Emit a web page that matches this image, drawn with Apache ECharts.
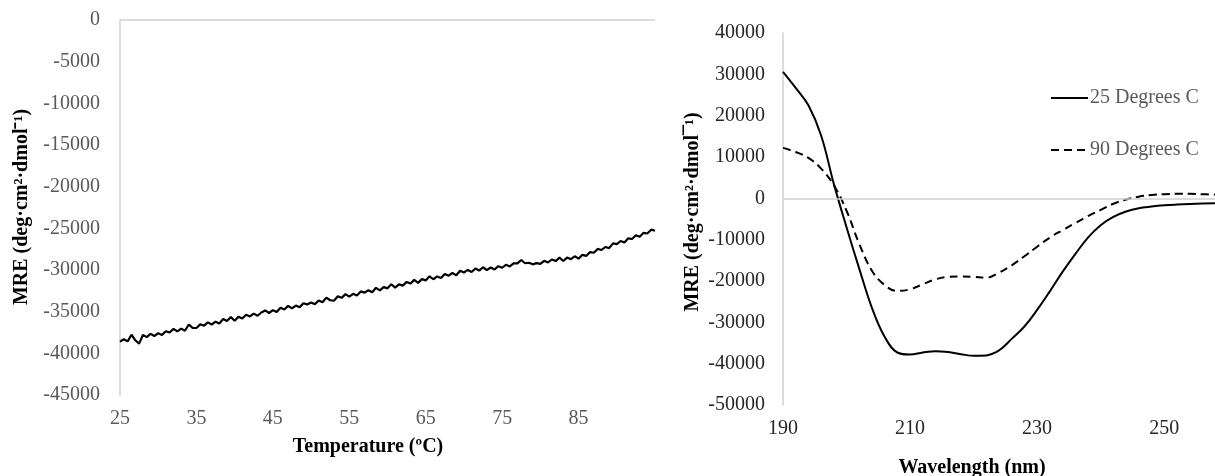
<!DOCTYPE html>
<html>
<head>
<meta charset="utf-8">
<script src="https://cdn.jsdelivr.net/npm/echarts@6/dist/echarts.min.js"></script>
<style>
html,body{margin:0;padding:0;background:#fff;}
#c{width:1215px;height:476px;}
</style>
</head>
<body>
<div id="c"></div>
<script>
// ---- Left chart: thermal melt ----
var temps = [
25,25.5,26,26.5,27,27.5,28,28.5,29,29.5,
30,30.5,31,31.5,32,32.5,33,33.5,34,34.5,
35,35.5,36,36.5,37,37.5,38,38.5,39,39.5,
40,40.5,41,41.5,42,42.5,43,43.5,44,44.5,
45,45.5,46,46.5,47,47.5,48,48.5,49,49.5,
50,50.5,51,51.5,52,52.5,53,53.5,54,54.5,
55,55.5,56,56.5,57,57.5,58,58.5,59,59.5,
60,60.5,61,61.5,62,62.5,63,63.5,64,64.5,
65,65.5,66,66.5,67,67.5,68,68.5,69,69.5,
70,70.5,71,71.5,72,72.5,73,73.5,74,74.5,
75,75.5,76,76.5,77,77.5,78,78.5,79,79.5,
80,80.5,81,81.5,82,82.5,83,83.5,84,84.5,
85,85.5,86,86.5,87,87.5,88,88.5,89,89.5,
90,90.5,91,91.5,92,92.5,93,93.5,94,94.5,
95];
var meltMRE = [
-38600,-38310,-38570,-37770,-38430,-38840,-37800,-38060,-37660,-37920,
-37580,-37790,-37350,-37500,-37060,-37370,-37030,-37290,-36540,-36950,
-36960,-36520,-36680,-36280,-36540,-36200,-36410,-35870,-36120,-35630,
-36090,-35600,-35810,-35360,-35570,-35230,-35490,-35100,-34850,-35160,
-34820,-35030,-34540,-34740,-34300,-34610,-34270,-34480,-33980,-34140,
-33900,-34100,-33660,-33870,-33320,-33630,-33680,-33140,-33340,-32900,
-33200,-32860,-33060,-32570,-32720,-32430,-32680,-32140,-32440,-32050,
-32200,-31710,-32110,-31720,-31870,-31430,-31630,-31190,-31540,-31100,
-31250,-30760,-31110,-30770,-30970,-30480,-30680,-30340,-30640,-30100,
-30300,-29990,-30240,-29830,-30070,-29670,-30010,-29700,-29940,-29540,
-29730,-29370,-29570,-29210,-29200,-28800,-29190,-29130,-29320,-29170,
-29260,-28900,-29100,-28740,-28930,-28520,-28920,-28510,-28700,-28350,
-28640,-28180,-28310,-27850,-27930,-27470,-27600,-27240,-27370,-26810,
-26890,-26520,-26710,-26200,-26280,-25820,-26000,-25540,-25620,-25160,
-25290];

// ---- Right chart: CD spectra ----
var wavelengths = [190,192,194,196,198,200,202,204,206,208,210,212,214,216,218,220,222,224,226,228,230,232,234,236,238,240,242,244,246,248,250,252,254,256,258];
var mre25 = [30600,26700,22500,15200,3500,-7000,-17000,-26500,-33500,-37300,-37800,-37300,-37000,-37200,-37700,-38100,-38000,-36800,-34000,-31000,-27000,-22500,-17800,-13500,-9500,-6500,-4500,-3200,-2400,-2000,-1700,-1500,-1350,-1250,-1200];
var mre90 = [12200,11200,9800,7200,3200,-3000,-11000,-17500,-21000,-22400,-22000,-20800,-19600,-19000,-18900,-19000,-19200,-18000,-16200,-14000,-11700,-9500,-7700,-6000,-4300,-2800,-1300,-300,400,800,1000,1100,1100,1000,900];
var seriesNames = ['25 Degrees C', '90 Degrees C'];

function pairs(xs, ys){ return xs.map(function(x,i){ return [x, ys[i]]; }); }

var FONT = '"Liberation Serif", "Times New Roman", serif';
var axisGrey = '#d0d0d0';

var zeroLine = {
  silent: true, symbol: 'none', label: {show: false},
  lineStyle: {color: axisGrey, width: 1.5, type: 'solid'},
  data: [{yAxis: 0}], animation: false
};

var chart = echarts.init(document.getElementById('c'));
chart.setOption({
  animation: false,
  backgroundColor: '#fff',
  grid: [
    {left: 120, top: 20, width: 535, height: 375},
    {left: 783, top: 33, right: 0, height: 372}
  ],
  xAxis: [
    {
      gridIndex: 0, type: 'value', min: 25, max: 95, interval: 5,
      axisLine: {show: false}, axisTick: {show: false}, splitLine: {show: false},
      axisLabel: {
        color: '#595959', fontFamily: FONT, fontSize: 20, margin: 14,
        showMaxLabel: false,
        formatter: function(v){ return ((v - 25) % 10 === 0 && v < 95) ? String(v) : ''; }
      }
    },
    {
      gridIndex: 1, type: 'value', min: 190, max: 258, interval: 10,
      axisLine: {show: false}, axisTick: {show: false}, splitLine: {show: false},
      axisLabel: {
        color: '#262626', fontFamily: FONT, fontSize: 20, margin: 14,
        showMaxLabel: false,
        formatter: function(v){ return ((v - 190) % 20 === 0 && v <= 250) ? String(v) : ''; }
      }
    }
  ],
  yAxis: [
    {
      gridIndex: 0, type: 'value', min: -45000, max: 0, interval: 5000,
      axisLine: {show: true, lineStyle: {color: axisGrey, width: 1.5}},
      axisTick: {show: false}, splitLine: {show: false},
      axisLabel: {color: '#595959', fontFamily: FONT, fontSize: 20, margin: 20,
        formatter: function(v){ return String(v); }}
    },
    {
      gridIndex: 1, type: 'value', min: -50000, max: 40000, interval: 10000,
      axisLine: {show: true, onZero: false, lineStyle: {color: axisGrey, width: 1.5}},
      axisTick: {show: false}, splitLine: {show: false},
      axisLabel: {color: '#262626', fontFamily: FONT, fontSize: 20, margin: 18,
        formatter: function(v){ return String(v); }}
    }
  ],
  legend: {
    orient: 'vertical', left: 1045, top: 83,
    itemWidth: 37, itemHeight: 14, itemGap: 32,
    data: seriesNames,
    itemStyle: {opacity: 0, borderWidth: 0},
    textStyle: {color: '#595959', fontFamily: FONT, fontSize: 20, lineHeight: 20, padding: [0,0,0,-3]}
  },
  series: [
    {
      type: 'line', xAxisIndex: 0, yAxisIndex: 0, data: pairs(temps, meltMRE),
      symbol: 'none', lineStyle: {color: '#000', width: 2.2}, itemStyle: {color: '#000'},
      markLine: zeroLine, z: 3
    },
    {
      name: seriesNames[0], type: 'line', xAxisIndex: 1, yAxisIndex: 1, data: pairs(wavelengths, mre25),
      symbol: 'none', smooth: 0.4, lineStyle: {color: '#000', width: 2}, itemStyle: {color: '#000'},
      markLine: zeroLine, z: 3
    },
    {
      name: seriesNames[1], type: 'line', xAxisIndex: 1, yAxisIndex: 1, data: pairs(wavelengths, mre90),
      symbol: 'none', smooth: 0.4, lineStyle: {color: '#000', width: 2, type: [8, 5]}, itemStyle: {color: '#000'},
      z: 3
    }
  ],
  graphic: [
    {type: 'text', x: 22, y: 207, rotation: Math.PI/2,
      style: {text: 'MRE (deg·cm²·dmol⁻¹)', font: 'bold 20px ' + FONT, fill: '#000', align: 'center', verticalAlign: 'middle'}},
    {type: 'text', x: 368, y: 447,
      style: {text: 'Temperature (ºC)', font: 'bold 20px ' + FONT, fill: '#000', align: 'center', verticalAlign: 'middle'}},
    {type: 'text', x: 693, y: 212, rotation: Math.PI/2,
      style: {text: 'MRE (deg·cm²·dmol¯¹)', font: 'bold 20px ' + FONT, fill: '#000', align: 'center', verticalAlign: 'middle'}},
    {type: 'text', x: 972, y: 468,
      style: {text: 'Wavelength (nm)', font: 'bold 20px ' + FONT, fill: '#000', align: 'center', verticalAlign: 'middle'}}
  ]
});
</script>
</body>
</html>
